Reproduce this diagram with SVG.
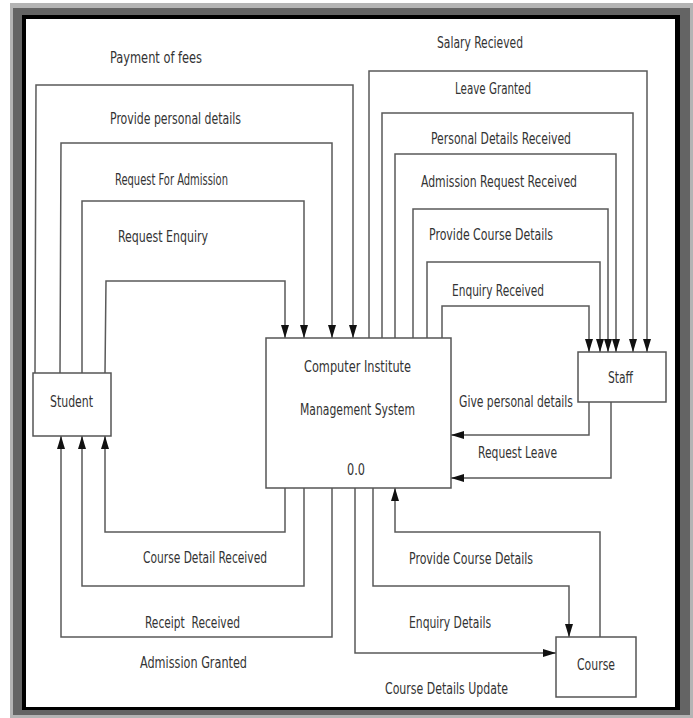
<svg xmlns="http://www.w3.org/2000/svg" width="693" height="718" viewBox="0 0 693 718">
  <style>
    .box { fill: #ffffff; stroke: #555555; stroke-width: 1.5; }
    .flow { fill: none; stroke: #5a5a5a; stroke-width: 1.5; }
    .lbl { font-family: "Liberation Sans Narrow", "DejaVu Sans Condensed", "Liberation Sans", sans-serif; font-size: 16px; fill: #333333; }
  </style>
  <defs>
    <marker id="arrow" markerUnits="userSpaceOnUse" markerWidth="13" markerHeight="8" refX="13" refY="4" orient="auto">
      <path d="M0,0 L13,4 L0,8 z" fill="#111111"/>
    </marker>
  </defs>

  <!-- frame -->
  <rect x="10" y="3" width="683" height="715" fill="#b4b4b4"/>
  <rect x="13" y="8" width="677" height="707" fill="#646464"/>
  <rect x="22" y="15" width="658" height="695" fill="#000000"/>
  <rect x="26" y="19" width="649" height="688" fill="#ffffff"/>

  <!-- connectors -->
  <g id="connectors" class="flow">
    <!-- Student to system -->
    <path d="M35,373 L36,85 L353,85 L353,338" marker-end="url(#arrow)"/>
    <path d="M60,373 L61,143 L332,143 L332,338" marker-end="url(#arrow)"/>
    <path d="M82,373 L82,201 L304,201 L304,338" marker-end="url(#arrow)"/>
    <path d="M105,373 L106,281 L285,281 L285,338" marker-end="url(#arrow)"/>
    <!-- System to student -->
    <path d="M285,488 L285,532 L105,532 L105,436" marker-end="url(#arrow)"/>
    <path d="M304,488 L304,586 L82,586 L82,436" marker-end="url(#arrow)"/>
    <path d="M332,488 L332,637 L61,637 L61,436" marker-end="url(#arrow)"/>
    <!-- System to staff -->
    <path d="M369,338 L369,71 L647,71 L647,352" marker-end="url(#arrow)"/>
    <path d="M382,338 L382,113 L633,113 L633,352" marker-end="url(#arrow)"/>
    <path d="M395,338 L395,154 L616,154 L616,352" marker-end="url(#arrow)"/>
    <path d="M413,338 L413,209 L608,209 L608,352" marker-end="url(#arrow)"/>
    <path d="M427,338 L427,262 L600,262 L600,352" marker-end="url(#arrow)"/>
    <path d="M442,338 L442,306 L589,306 L589,352" marker-end="url(#arrow)"/>
    <!-- Staff to system -->
    <path d="M589,402 L589,435 L451,435" marker-end="url(#arrow)"/>
    <path d="M611,402 L611,478 L451,478" marker-end="url(#arrow)"/>
    <!-- Course and system -->
    <path d="M600,637 L600,532 L395,532 L395,488" marker-end="url(#arrow)"/>
    <path d="M373,488 L373,586 L569,586 L569,637" marker-end="url(#arrow)"/>
    <path d="M355,488 L355,653 L556,653" marker-end="url(#arrow)"/>
  </g>

  <!-- nodes -->
  <g id="student">
    <rect class="box" x="33" y="373" width="78" height="63"/>
    <text class="lbl" x="50" y="407" textLength="43" lengthAdjust="spacingAndGlyphs">Student</text>
  </g>
  <g id="system">
    <rect class="box" x="266" y="338" width="185" height="150"/>
    <text class="lbl" x="304" y="372" textLength="107" lengthAdjust="spacingAndGlyphs">Computer Institute</text>
    <text class="lbl" x="300" y="415" textLength="115" lengthAdjust="spacingAndGlyphs">Management System</text>
    <text class="lbl" x="347" y="475" textLength="18" lengthAdjust="spacingAndGlyphs">0.0</text>
  </g>
  <g id="staff">
    <rect class="box" x="578" y="352" width="88" height="50"/>
    <text class="lbl" x="608" y="383" textLength="25" lengthAdjust="spacingAndGlyphs">Staff</text>
  </g>
  <g id="course">
    <rect class="box" x="556" y="637" width="80" height="60"/>
    <text class="lbl" x="577" y="670" textLength="38" lengthAdjust="spacingAndGlyphs">Course</text>
  </g>

  <!-- flow labels -->
  <g id="labels" class="lbl">
    <text x="110" y="63" textLength="92" lengthAdjust="spacingAndGlyphs">Payment of fees</text>
    <text x="110" y="124" textLength="131" lengthAdjust="spacingAndGlyphs">Provide personal details</text>
    <text x="115" y="185" textLength="113" lengthAdjust="spacingAndGlyphs">Request For Admission</text>
    <text x="118" y="242" textLength="90" lengthAdjust="spacingAndGlyphs">Request Enquiry</text>
    <text x="437" y="48" textLength="86" lengthAdjust="spacingAndGlyphs">Salary Recieved</text>
    <text x="455" y="94" textLength="76" lengthAdjust="spacingAndGlyphs">Leave Granted</text>
    <text x="431" y="144" textLength="140" lengthAdjust="spacingAndGlyphs">Personal Details Received</text>
    <text x="421" y="187" textLength="156" lengthAdjust="spacingAndGlyphs">Admission Request Received</text>
    <text x="429" y="240" textLength="124" lengthAdjust="spacingAndGlyphs">Provide Course Details</text>
    <text x="452" y="296" textLength="92" lengthAdjust="spacingAndGlyphs">Enquiry Received</text>
    <text x="459" y="407" textLength="114" lengthAdjust="spacingAndGlyphs">Give personal details</text>
    <text x="478" y="458" textLength="79" lengthAdjust="spacingAndGlyphs">Request Leave</text>
    <text x="143" y="563" textLength="124" lengthAdjust="spacingAndGlyphs">Course Detail Received</text>
    <text x="145" y="628" textLength="95" lengthAdjust="spacingAndGlyphs" xml:space="preserve">Receipt  Received</text>
    <text x="140" y="668" textLength="107" lengthAdjust="spacingAndGlyphs">Admission Granted</text>
    <text x="409" y="564" textLength="124" lengthAdjust="spacingAndGlyphs">Provide Course Details</text>
    <text x="409" y="628" textLength="82" lengthAdjust="spacingAndGlyphs">Enquiry Details</text>
    <text x="385" y="694" textLength="123" lengthAdjust="spacingAndGlyphs">Course Details Update</text>
  </g>
</svg>
